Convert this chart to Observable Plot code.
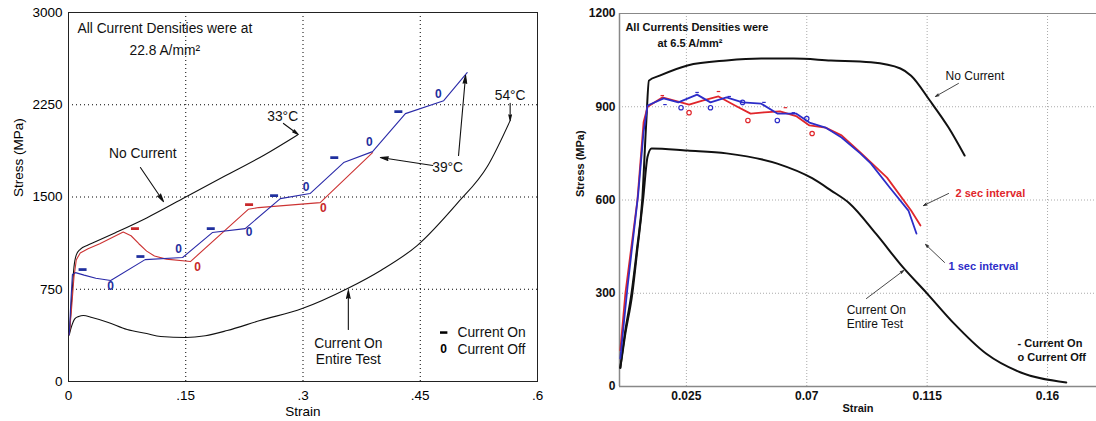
<!DOCTYPE html>
<html><head><meta charset="utf-8">
<script src="https://cdn.jsdelivr.net/npm/d3@7"></script>
<script src="https://cdn.jsdelivr.net/npm/@observablehq/plot@0.6"></script>
<style>
html,body{margin:0;padding:0;background:#fff;overflow:hidden}
#wrap{display:flex;width:1096px;height:421px}
#wrap svg{display:block;flex:none}
</style></head><body><div id="wrap"></div>
<script>
// ---------- LEFT PANEL DATA (22.8 A/mm2) ----------
const leftXTicks = [0, 0.15, 0.3, 0.45, 0.6];
const leftYTicks = [0, 750, 1500, 2250, 3000];

const leftStrainNoCurrent = [0.001,0.003,0.005,0.007,0.010,0.015,0.025,0.035,0.060,0.100,0.150,0.200,0.250,0.293];
const leftStressNoCurrent = [380,560,760,930,1030,1075,1110,1138,1210,1330,1500,1670,1840,2005];

const leftStrainCurrentOn = [0.001,0.004,0.008,0.013,0.019,0.030,0.050,0.075,0.100,0.118,0.150,0.175,0.203,0.245,0.299,0.357,0.400,0.446,0.497,0.536,0.565];
const leftStressCurrentOn = [380,450,510,528,536,520,482,422,390,366,358,372,414,496,593,756,905,1105,1446,1750,2121];

const leftStrainRed = [0.001,0.004,0.007,0.010,0.015,0.025,0.040,0.070,0.080,0.090,0.100,0.110,0.125,0.156,0.230,0.243,0.322,0.389];
const leftStressRed = [380,600,850,990,1045,1080,1120,1215,1185,1120,1060,1020,995,975,1400,1414,1454,1860];

const leftStrainBlue = [0.001,0.003,0.005,0.009,0.020,0.035,0.054,0.098,0.146,0.184,0.226,0.271,0.309,0.352,0.389,0.431,0.480,0.510];
const leftStressBlue = [380,650,870,885,865,840,821,991,1008,1211,1243,1487,1528,1780,1869,2178,2283,2511];

const leftBlueOnStrain = [0.018,0.092,0.182,0.263,0.340,0.422];
const leftBlueOnStress = [910,1016,1243,1511,1820,2194];
const leftBlueOffStrain = [0.054,0.141,0.231,0.304,0.385,0.473];
const leftBlueOffStress = [772,1073,1211,1576,1942,2340];
const leftRedOnStrain = [0.085,0.231];
const leftRedOnStress = [1243,1438];
const leftRedOffStrain = [0.165,0.326];
const leftRedOffStress = [926,1406];

// ---------- RIGHT PANEL DATA (6.5 A/mm2) ----------
const rightXTicks = [0.025, 0.07, 0.115, 0.16];
const rightYTicks = [0, 300, 600, 900, 1200];

const rightStrainNoCurrent = [0.0003,0.002,0.0045,0.0065,0.0085,0.010,0.011,0.015,0.0254,0.040,0.053,0.065,0.079,0.094,0.105,0.109,0.116,0.123,0.129];
const rightStressNoCurrent = [60,170,300,440,600,850,984,1000,1033,1049,1055,1055,1049,1043,1023,1000,920,833,743];

const rightStrainCurrentOn = [0.0003,0.002,0.0048,0.0068,0.0088,0.0105,0.012,0.0254,0.040,0.059,0.072,0.079,0.086,0.096,0.106,0.115,0.125,0.137,0.150,0.167];
const rightStressCurrentOn = [60,160,300,450,600,740,766,759,750,717,670,631,589,490,383,299,203,106,45,13];

const rightStrainRed = [0.0003,0.0022,0.0067,0.009,0.0105,0.016,0.023,0.026,0.031,0.037,0.043,0.049,0.054,0.060,0.066,0.071,0.077,0.083,0.090,0.100,0.109,0.1125];
const rightStressRed = [116,300,600,850,900,930,914,907,920,933,905,878,882,885,870,840,833,808,753,672,566,518];

const rightStrainBlue = [0.0003,0.003,0.007,0.009,0.0105,0.0165,0.022,0.029,0.034,0.040,0.046,0.053,0.059,0.066,0.071,0.077,0.083,0.090,0.094,0.101,0.108,0.111];
const rightStressBlue = [90,320,620,820,904,927,914,939,914,930,914,910,878,878,849,833,801,750,717,640,566,492];

const rightRedOnStrain = [0.016,0.037,0.062];
const rightRedOnStress = [936,949,897];
const rightRedOffStrain = [0.026,0.048,0.072];
const rightRedOffStress = [881,856,814];
const rightBlueOnStrain = [0.017,0.029,0.041,0.054,0.065];
const rightBlueOnStress = [907,946,933,914,881];
const rightBlueOffStrain = [0.023,0.034,0.046,0.059,0.070];
const rightBlueOffStress = [897,897,914,856,862];

// ---------- ANNOTATIONS ----------
const leftNotesStart = [
  {x:0.0115, y:2870, text:"All Current Densities were at"},
  {x:0.078, y:2691, text:"22.8 A/mm²"},
  {x:0.4976, y:398, text:"Current On"},
  {x:0.4976, y:260, text:"Current Off"}
];
const leftNotesMiddle = [
  {x:0.274, y:2150, text:"33°C"},
  {x:0.095, y:1854, text:"No Current"},
  {x:0.485, y:1740, text:"39°C"},
  {x:0.565, y:2325, text:"54°C"},
  {x:0.358, y:309, text:"Current On"},
  {x:0.358, y:179, text:"Entire Test"}
];
const leftArrows = [
  {x1:0.275, y1:2098, x2:0.294, y2:2008},
  {x1:0.092, y1:1740, x2:0.1215, y2:1463},
  {x1:0.466, y1:1756, x2:0.399, y2:1821},
  {x1:0.499, y1:1837, x2:0.508, y2:2488},
  {x1:0.565, y1:2262, x2:0.565, y2:2122},
  {x1:0.358, y1:423, x2:0.358, y2:740}
];
const leftLegendOn = [{x:0.480, y:398}];
const leftLegendOff = [{x:0.480, y:260, text:"0"}];

const rightNotesBold = [
  {x:0.0022, y:1155, text:"All Currents Densities were"},
  {x:0.0142, y:1103, text:"at 6.5 A/mm²"},
  {x:0.1488, y:138, text:"- Current On"},
  {x:0.1488, y:93, text:"o Current Off"}
];
const rightNotesPlain = [
  {x:0.1219, y:997, text:"No Current"},
  {x:0.0849, y:245, text:"Current On"},
  {x:0.0849, y:200, text:"Entire Test"}
];
const rightNoteRed = [{x:0.1256, y:621, text:"2 sec interval"}];
const rightNoteBlue = [{x:0.1230, y:386, text:"1 sec interval"}];
const rightArrows = [
  {x1:0.1267, y1:975, x2:0.1181, y2:933},
  {x1:0.1230, y1:621, x2:0.1136, y2:582},
  {x1:0.1215, y1:399, x2:0.1144, y2:457},
  {x1:0.0923, y1:283, x2:0.1062, y2:373}
];

// ---------- HELPERS ----------
const zip = (xs, ys) => xs.map((x, i) => ({x, y: ys[i]}));
const dashSymbol = {
  draw(context, size) {
    const r = Math.sqrt(size / Math.PI);
    context.moveTo(-1.6 * r, -0.55 * r);
    context.lineTo(1.6 * r, -0.55 * r);
    context.lineTo(1.6 * r, 0.55 * r);
    context.lineTo(-1.6 * r, 0.55 * r);
    context.closePath();
  }
};
const FONT = "'Liberation Sans', Arial, Helvetica, sans-serif";
const leftBlue = "#2a2aa8", leftRed = "#cc3333";
const leftBlueMark = "#1f2f9e", leftRedMark = "#c8282a";
const rightBlue = "#2d2dc8", rightRed = "#e0262b";
const fmtLeft = d => d === 0 ? "0" : String(d).replace(/^0/, "");
const fmtPlain = d => String(d);

// ---------- LEFT CHART ----------
const left = Plot.plot({
  width: 548, height: 421,
  marginLeft: 68, marginRight: 11, marginTop: 12, marginBottom: 40,
  style: {fontFamily: FONT, fontSize: "13px", color: "#000", background: "#fff"},
  x: {domain: [0, 0.6]},
  y: {domain: [0, 3000]},
  marks: [
    Plot.gridX([0.15, 0.3, 0.45], {stroke: "#000", strokeOpacity: 1, strokeDasharray: "1,3"}),
    Plot.gridY([750, 1500, 2250], {stroke: "#000", strokeOpacity: 1, strokeDasharray: "1,3"}),
    Plot.frame({stroke: "#222"}),
    Plot.axisX(leftXTicks, {tickSize: 0, tickPadding: 9, tickFormat: fmtLeft, label: null, fontSize: 13.5}),
    Plot.axisY(leftYTicks, {tickSize: 0, tickPadding: 6, tickFormat: fmtPlain, label: null, fontSize: 13.5}),
    Plot.text(["Strain"], {frameAnchor: "bottom", dy: 30, lineAnchor: "middle", fontSize: 13.5}),
    Plot.text(["Stress (MPa)"], {frameAnchor: "left", rotate: -90, dx: -50, lineAnchor: "middle", fontSize: 13.5}),
    Plot.line(zip(leftStrainNoCurrent, leftStressNoCurrent), {x: "x", y: "y", stroke: "#111", strokeWidth: 1.1, curve: "monotone-x"}),
    Plot.line(zip(leftStrainCurrentOn, leftStressCurrentOn), {x: "x", y: "y", stroke: "#111", strokeWidth: 1.1, curve: "monotone-x"}),
    Plot.line(zip(leftStrainRed, leftStressRed), {x: "x", y: "y", stroke: leftRed, strokeWidth: 1.1}),
    Plot.line(zip(leftStrainBlue, leftStressBlue), {x: "x", y: "y", stroke: leftBlue, strokeWidth: 1.1}),
    Plot.dot(zip(leftBlueOnStrain, leftBlueOnStress), {x: "x", y: "y", symbol: dashSymbol, r: 2.5, fill: leftBlueMark, stroke: "none"}),
    Plot.text(zip(leftBlueOffStrain, leftBlueOffStress), {x: "x", y: "y", text: () => "0", fill: leftBlueMark, fontWeight: "bold", fontSize: 12}),
    Plot.dot(zip(leftRedOnStrain, leftRedOnStress), {x: "x", y: "y", symbol: dashSymbol, r: 2.5, fill: leftRedMark, stroke: "none"}),
    Plot.text(zip(leftRedOffStrain, leftRedOffStress), {x: "x", y: "y", text: () => "0", fill: leftRedMark, fontWeight: "bold", fontSize: 12}),
    Plot.arrow(leftArrows, {x1: "x1", y1: "y1", x2: "x2", y2: "y2", stroke: "#111", fill: "#111", strokeWidth: 1.1, headLength: 11, headAngle: 26}),
    Plot.text(leftNotesStart, {x: "x", y: "y", text: "text", textAnchor: "start", fontSize: 13.8, fill: "#111"}),
    Plot.text(leftNotesMiddle, {x: "x", y: "y", text: "text", textAnchor: "middle", fontSize: 13.8, fill: "#111"}),
    Plot.dot(leftLegendOn, {x: "x", y: "y", symbol: dashSymbol, r: 2.3, fill: "#000", stroke: "none"}),
    Plot.text(leftLegendOff, {x: "x", y: "y", text: "text", fontWeight: "bold", fontSize: 12, fill: "#000"})
  ]
});

// ---------- RIGHT CHART ----------
const right = Plot.plot({
  width: 548, height: 421,
  marginLeft: 71, marginRight: 0, marginTop: 13, marginBottom: 35,
  style: {fontFamily: FONT, fontSize: "12px", color: "#111", background: "#fff"},
  x: {domain: [0, 0.1783]},
  y: {domain: [0, 1200]},
  marks: [
    Plot.gridX(rightXTicks, {stroke: "#aaa", strokeOpacity: 1, strokeDasharray: "1,2"}),
    Plot.gridY([300, 600, 900], {stroke: "#aaa", strokeOpacity: 1, strokeDasharray: "1,2"}),
    Plot.ruleY([0], {stroke: "#888", strokeWidth: 1.5}),
    Plot.ruleY([1200], {stroke: "#888", strokeWidth: 1.2}),
    Plot.ruleX([0], {stroke: "#888", strokeWidth: 1.5}),
    Plot.axisX(rightXTicks, {tickSize: 0, tickPadding: 5, tickFormat: fmtPlain, label: null, fontSize: 12, fontWeight: "bold"}),
    Plot.axisY(rightYTicks, {tickSize: 0, tickPadding: 4, tickFormat: fmtPlain, label: null, fontSize: 12, fontWeight: "bold"}),
    Plot.text(["Strain"], {frameAnchor: "bottom", dy: 22, lineAnchor: "middle", fontSize: 11, fontWeight: "bold"}),
    Plot.text(["Stress (MPa)"], {frameAnchor: "left", rotate: -90, dx: -39, dy: -3, lineAnchor: "middle", fontSize: 11, fontWeight: "bold"}),
    Plot.line(zip(rightStrainNoCurrent, rightStressNoCurrent), {x: "x", y: "y", stroke: "#111", strokeWidth: 2, curve: "monotone-x"}),
    Plot.line(zip(rightStrainCurrentOn, rightStressCurrentOn), {x: "x", y: "y", stroke: "#111", strokeWidth: 2, curve: "monotone-x"}),
    Plot.line(zip(rightStrainRed, rightStressRed), {x: "x", y: "y", stroke: rightRed, strokeWidth: 1.8}),
    Plot.line(zip(rightStrainBlue, rightStressBlue), {x: "x", y: "y", stroke: rightBlue, strokeWidth: 1.8}),
    Plot.dot(zip(rightRedOnStrain, rightRedOnStress), {x: "x", y: "y", symbol: dashSymbol, r: 1.1, fill: rightRed, stroke: "none"}),
    Plot.dot(zip(rightBlueOnStrain, rightBlueOnStress), {x: "x", y: "y", symbol: dashSymbol, r: 1.1, fill: rightBlue, stroke: "none"}),
    Plot.dot(zip(rightRedOffStrain, rightRedOffStress), {x: "x", y: "y", r: 2.2, stroke: rightRed, strokeWidth: 1.2, fill: "none"}),
    Plot.dot(zip(rightBlueOffStrain, rightBlueOffStress), {x: "x", y: "y", r: 2.2, stroke: rightBlue, strokeWidth: 1.2, fill: "none"}),
    Plot.arrow(rightArrows, {x1: "x1", y1: "y1", x2: "x2", y2: "y2", stroke: "#333", fill: "#333", strokeWidth: 0.9, headLength: 6, headAngle: 36}),
    Plot.text(rightNotesBold, {x: "x", y: "y", text: "text", textAnchor: "start", fontSize: 11, fontWeight: "bold", fill: "#111"}),
    Plot.text(rightNotesPlain, {x: "x", y: "y", text: "text", textAnchor: "start", fontSize: 12, fill: "#111"}),
    Plot.text(rightNoteRed, {x: "x", y: "y", text: "text", textAnchor: "start", fontSize: 11, fontWeight: "bold", fill: rightRed}),
    Plot.text(rightNoteBlue, {x: "x", y: "y", text: "text", textAnchor: "start", fontSize: 11, fontWeight: "bold", fill: rightBlue})
  ]
});

document.getElementById("wrap").append(left, right);
</script></body></html>
